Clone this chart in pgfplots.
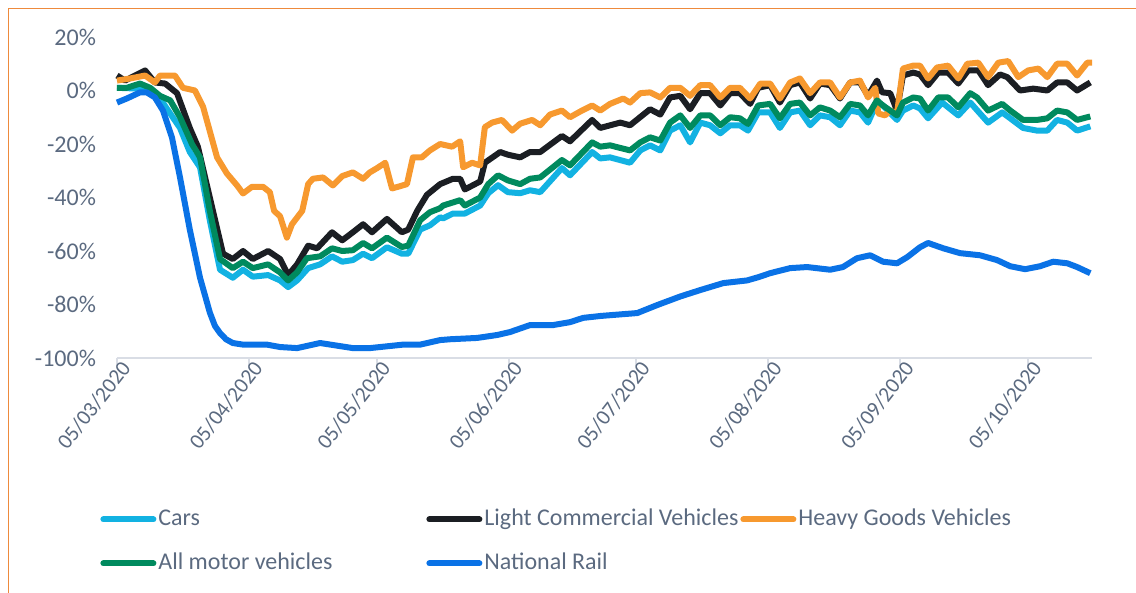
\documentclass[border=0pt]{standalone}
\usepackage{fontspec}
\setmainfont{Carlito}
\usepackage{pgfplots}
\pgfplotsset{compat=1.18}
\definecolor{txt}{HTML}{5B6A80}
\definecolor{carsc}{HTML}{12B2E2}
\definecolor{lcvc}{HTML}{1B1E23}
\definecolor{hgvc}{HTML}{F7992F}
\definecolor{amvc}{HTML}{008A5E}
\definecolor{railc}{HTML}{0A72E6}
\definecolor{framec}{HTML}{EE8A3C}
\definecolor{axisc}{HTML}{D9DDE5}
\begin{document}
\begin{tikzpicture}
\path[use as bounding box] (-58.5pt,-117.5pt) rectangle (509.5pt,179pt);
\begin{axis}[
  at={(0pt,0pt)}, anchor=south west,
  scale only axis, width=487.5pt, height=160.5pt,
  xmin=0, xmax=229, ymin=-100, ymax=20,
  clip=false,
  axis lines*=left,
  y axis line style={draw=none},
  x axis line style={draw=axisc, line width=1pt},
  ytick style={draw=none},
  xtick style={draw=axisc, line width=1pt},
  tick align=outside, major tick length=4pt,
  xtick={0,31,61,92,122,153,184,214},
  xticklabels={05/03/2020,05/04/2020,05/05/2020,05/06/2020,05/07/2020,05/08/2020,05/09/2020,05/10/2020},
  xticklabel style={rotate=52, anchor=east, xshift=7pt, yshift=-3pt, font=\fontsize{10.8}{13}\selectfont, text=txt},
  ytick={-100,-80,-60,-40,-20,0,20},
  yticklabels={-100\%,-80\%,-60\%,-40\%,-20\%,0\%,20\%},
  yticklabel style={font=\fontsize{12}{14}\selectfont, text=txt, xshift=-3pt},
  legend columns=3,
  legend cell align=left,
  legend style={at={(axis description cs:0,0)}, anchor=north west, xshift=-8.5pt, yshift=-73.5pt,
    draw=none, fill=none, inner sep=0pt, row sep=8pt,
    font=\fontsize{12}{14}\selectfont, text=txt,
    nodes={inner sep=1pt, text height=9pt, text depth=3pt}},
  legend image code/.code={\draw[#1, line cap=round] (0pt,0pt) -- (25pt,0pt);},
  every axis plot/.append style={line width=3pt, line join=round, no markers},
]
\addplot[carsc] coordinates {
(0,1) (5.4,0.7) (10.1,-3) (14.8,-14) (17.1,-23) (19.5,-28.7) (21.8,-48.5) (24.2,-67) (27.2,-70) (29.6,-67) (31.9,-69.6) (35.5,-69) (38.3,-71) (40.2,-73.5) (42.3,-71) (44.9,-66.4) (47.7,-65) (50.5,-62) (52.9,-64) (55.4,-63.4) (57.8,-61) (59.9,-62.7) (63.4,-58.6) (66.9,-61) (68.4,-61) (71.2,-52) (73.5,-50.4) (75.9,-47.4) (76.6,-47.8) (78.9,-46) (81.7,-46) (85.3,-43) (87.2,-38.4) (89.5,-35.4) (91.8,-38) (94.7,-38.4) (97.0,-37.3) (99.4,-38) (104.5,-29) (106.4,-31.7) (111.6,-23) (113.5,-25.4) (115.8,-25) (120.5,-27) (122.9,-22.4) (125.2,-20.5) (127.6,-22.4) (129.9,-15) (132.3,-13) (134.6,-19.4) (137.0,-12) (139.3,-13) (141.7,-16) (144.0,-13) (146.3,-13) (148.2,-15) (150.6,-8.2) (153.4,-8.2) (155.7,-14) (158.1,-8.2) (160.4,-7.5) (162.8,-13) (165.1,-9.3) (167.5,-10) (169.8,-13) (172.2,-7.5) (174.5,-8.2) (176.4,-12) (178.5,-4.5) (179.9,-5.6) (183.2,-11) (184.6,-7.5) (187.0,-5.6) (188.6,-6.7) (190.5,-10.4) (193.8,-4.5) (197.6,-9.3) (200.4,-4.5) (204.6,-12) (207.9,-8.2) (209.8,-10.4) (212.8,-14) (216.1,-15) (218.5,-15) (220.8,-11) (223.2,-12) (225.5,-15) (228.6,-13.4)
};
\addlegendentry{\makebox[133pt][l]{Cars}}
\addplot[lcvc] coordinates {
(0,5.6) (1.9,3.7) (6.6,7.5) (8.9,3) (11.3,2.6) (14.1,-1) (17.1,-14) (19.0,-21) (21.8,-40) (24.9,-61) (27.2,-63) (29.6,-60) (31.9,-63) (35.5,-60) (38.3,-63) (40.2,-69) (42.3,-65) (44.9,-58) (47.0,-59) (50.5,-53) (52.9,-56) (55.4,-53) (57.8,-50) (59.9,-53) (63.4,-48) (66.9,-53) (68.4,-52) (70.5,-45) (72.8,-39) (75.9,-35) (78.9,-33) (80.6,-33) (81.7,-37) (85.3,-34) (86.4,-27) (90.0,-23) (91.8,-24) (94.7,-25) (97.0,-23) (99.4,-23) (104.5,-17) (106.4,-19) (111.6,-11) (113.5,-14) (118.2,-12) (120.5,-13) (125.2,-7) (127.6,-9) (129.9,-2.6) (132.3,-2) (134.6,-7) (137.0,-1) (139.3,-1) (141.7,-5.6) (144.0,-1) (146.3,-1) (148.7,-5) (150.6,1) (153.4,2) (155.7,-4.5) (158.1,2) (160.4,3) (162.8,-3) (165.1,2.6) (167.5,2) (169.8,-3) (172.2,3) (174.5,3) (176.4,-2) (178.5,3.7) (179.7,-0.7) (181.6,-1) (183.2,-7.5) (184.6,5.6) (187.0,6.7) (188.6,6) (190.5,2) (192.9,6.7) (195.2,6.7) (197.6,2.6) (199.9,7.5) (202.3,7.5) (204.6,2) (207.4,6) (209.1,5) (212.1,0) (215.2,0.7) (218.5,0) (220.8,3) (223.2,3) (225.5,0) (228.6,3)
};
\addlegendentry{\makebox[127pt][l]{Light Commercial Vehicles}}
\addplot[hgvc] coordinates {
(0,3.7) (3.1,4.5) (6.6,5.6) (8.9,3) (10.1,5.6) (13.6,5.6) (15.5,1) (18.3,0) (20.2,-6) (23.5,-25) (25.8,-31) (28.2,-35.5) (29.6,-38.5) (31.7,-36) (34.3,-36) (35.9,-38) (36.9,-45) (38.3,-47) (39.9,-55) (41.1,-50) (43.5,-45) (44.9,-35) (46.0,-33) (48.4,-32.5) (50.7,-35.5) (52.9,-32) (55.4,-30.6) (57.8,-33) (59.4,-30.6) (61.1,-29) (63.0,-27) (64.6,-36.6) (66.0,-36) (68.1,-35) (69.5,-25) (71.6,-25) (73.5,-22.4) (75.9,-20) (78.7,-21) (80.6,-19) (81.3,-28.7) (83.4,-27) (85.3,-28) (86.4,-13.7) (88.1,-12) (90.4,-11) (92.8,-15) (94.7,-12.4) (97.5,-11) (99.4,-13) (101.7,-9) (104.5,-7.5) (106.4,-10) (109.2,-7.5) (111.6,-5.6) (113.5,-7.5) (115.8,-5) (118.9,-3) (120.5,-4.5) (122.9,-1) (125.2,-0.7) (127.6,-2.6) (129.9,1) (132.3,1) (134.6,-2) (137.0,2) (139.3,2) (141.7,-2.6) (144.0,1) (146.3,1) (148.7,-3) (151.1,2.6) (153.4,2.6) (155.7,-3) (158.1,3) (160.4,4.5) (162.8,-1) (165.1,3) (167.5,3) (169.8,-2.6) (172.2,3) (174.5,3.7) (176.4,-2.6) (178.1,1) (178.8,-8.6) (180.4,-9.3) (181.6,-7.5) (183.2,-8.6) (184.6,8.2) (187.0,9.3) (188.6,9.3) (190.5,4.5) (192.6,8.6) (195.2,9.3) (197.6,4.5) (199.7,10) (202.3,10.4) (204.6,5) (207.0,10.4) (209.3,11) (211.7,5) (214.0,7.5) (216.4,8.2) (218.5,5) (220.8,10) (223.2,10) (225.5,5.6) (227.9,10.4) (229.0,10.4)
};
\addlegendentry{Heavy Goods Vehicles}
\addplot[amvc] coordinates {
(0,1) (2.3,1) (5.4,2.6) (7.8,1) (10.1,-2) (12.5,-3.7) (14.8,-10) (17.6,-20) (19.5,-25) (21.8,-45) (24.2,-63) (27.2,-66.4) (29.6,-64) (31.9,-66.4) (35.5,-65) (38.3,-68) (40.2,-71) (42.3,-68) (44.6,-62.7) (47.7,-62) (50.5,-59) (52.9,-60) (55.4,-59.7) (57.8,-57) (59.9,-59) (63.4,-55) (66.9,-58.5) (68.4,-58) (71.2,-48.5) (73.5,-45.5) (75.9,-44) (76.6,-43) (80.6,-41) (81.7,-43) (85.3,-40) (87.2,-35) (89.5,-31.7) (91.8,-33.6) (94.7,-35) (97.0,-33) (99.4,-32.5) (104.5,-26) (106.4,-28) (111.6,-19.4) (113.5,-21) (115.8,-20.5) (120.5,-22.4) (122.9,-19.4) (125.2,-17.5) (127.6,-18.7) (129.9,-12) (132.3,-9.3) (134.6,-14) (137.0,-9.3) (139.3,-9.3) (141.7,-13) (144.0,-10) (146.3,-10.4) (148.2,-12.5) (150.6,-5.6) (153.4,-5) (155.7,-10.4) (158.1,-5) (160.4,-4.5) (162.8,-9.3) (165.1,-6.3) (167.5,-7.5) (169.8,-10) (172.2,-5) (174.5,-5.6) (176.4,-9.3) (178.5,-3.7) (179.9,-5.6) (183.2,-9.3) (184.6,-4.5) (187.0,-2.6) (188.6,-3) (190.5,-7.5) (192.9,-2.6) (195.2,-2.6) (197.6,-6.3) (200.4,-1) (202.0,-2.6) (204.6,-7.5) (207.9,-5) (209.8,-7.5) (212.8,-11) (216.1,-11) (218.5,-10.4) (220.8,-7.5) (223.2,-8.2) (225.5,-11) (228.6,-9.7)
};
\addlegendentry{All motor vehicles}
\addplot[railc] coordinates {
(0,-4.5) (2.3,-3) (5.4,-0.7) (7.0,-0.7) (8.9,-2.6) (10.8,-7.5) (12.9,-17.5) (14.8,-32.5) (17.1,-52) (19.5,-70) (21.8,-83) (23.0,-88) (24.2,-90.7) (25.6,-93) (27.2,-94.4) (29.6,-95) (35.2,-95) (38.3,-95.9) (42.3,-96.3) (47.7,-94.4) (55.4,-96.3) (59.4,-96.3) (67.2,-95) (71.2,-95) (75.9,-93.3) (78.2,-93) (84.6,-92.5) (89.3,-91.4) (92.3,-90.3) (97.0,-87.7) (102.4,-87.7) (106.4,-86.6) (109.5,-85) (113.5,-84.3) (115.8,-84) (122.2,-83.2) (126.9,-80.2) (132.3,-77) (137.0,-74.6) (142.4,-72) (148.0,-71) (150.6,-69.8) (153.4,-68.3) (158.1,-66.4) (162.1,-66) (167.5,-67) (170.5,-66) (173.8,-62.7) (176.9,-61.6) (179.9,-64) (183.2,-64.6) (185.6,-62.3) (188.6,-58.6) (190.5,-57) (194.1,-59) (198.0,-60.8) (202.7,-61.6) (206.7,-63.4) (209.8,-65.7) (213.3,-66.8) (216.8,-65.7) (219.9,-64) (223.2,-64.6) (225.5,-66) (228.6,-68.3)
};
\addlegendentry{National Rail}
\end{axis}
\draw[framec, line width=0.75pt] (-54.25pt,-117.5pt) -- (-54.25pt,174.75pt) -- (509.5pt,174.75pt);
\end{tikzpicture}
\end{document}
